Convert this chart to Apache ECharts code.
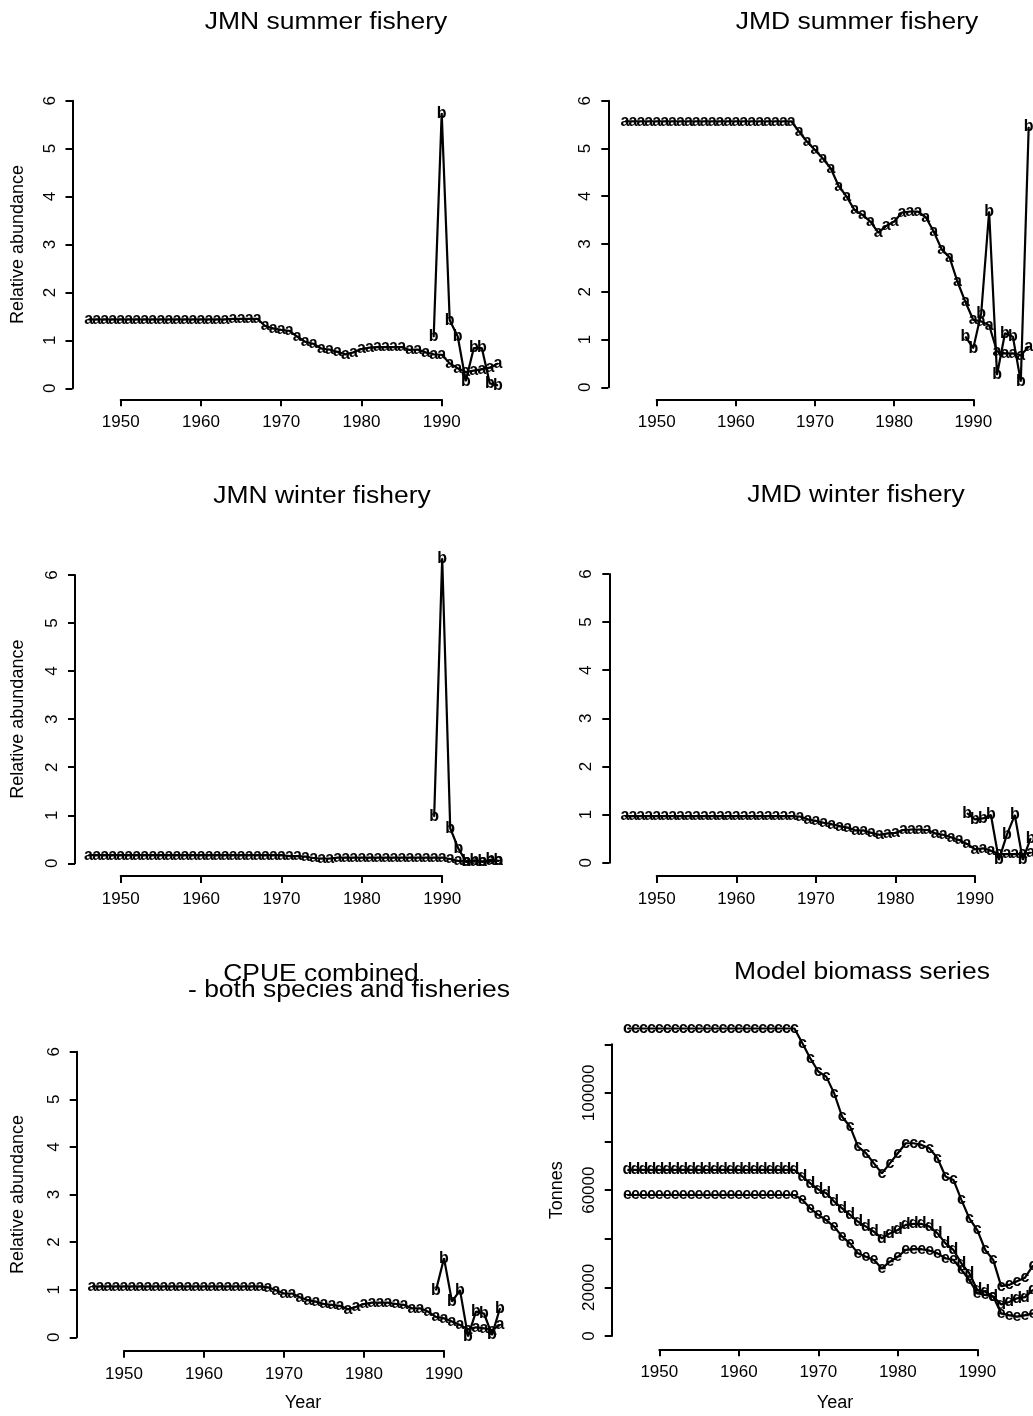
<!DOCTYPE html>
<html><head><meta charset="utf-8">
<script src="https://cdn.jsdelivr.net/npm/echarts@6.0.0/dist/echarts.min.js"></script>
<style>html,body{margin:0;padding:0;background:#fff}#c{width:1033px;height:1416px}</style>
</head><body><div id="c"></div>
<script>
// ---------------- DATA ----------------
const years = [1946,1947,1948,1949,1950,1951,1952,1953,1954,1955,1956,1957,1958,1959,1960,1961,1962,1963,1964,1965,1966,1967,
  1968,1969,1970,1971,1972,1973,1974,1975,1976,1977,1978,1979,1980,1981,1982,1983,1984,1985,1986,1987,
  1988,1989,1990,1991,1992,1993,1994,1995,1996,1997];
const obsYears = [1989,1990,1991,1992,1993,1994,1995,1996,1997];
const xTicks = [1950,1960,1970,1980,1990];

// JMN summer fishery
const jmnSummerA = [1.44,1.44,1.44,1.44,1.44,1.44,1.44,1.44,1.44,1.44,1.44,1.44,1.44,1.44,1.44,1.44,1.44,1.44,1.45,1.45,1.45,1.45,
  1.30,1.25,1.22,1.20,1.08,0.97,0.93,0.83,0.81,0.76,
  0.71,0.75,0.82,0.85,0.86,0.86,0.86,0.86,0.80,0.81,
  0.75,0.71,0.70,0.52,0.42,0.34,0.37,0.40,0.43,0.52];
const jmnSummerB = [1.07,5.74,1.42,1.08,0.15,0.84,0.84,0.10,0.06];

// JMD summer fishery
const jmdSummerA = [5.57,5.57,5.57,5.57,5.57,5.57,5.57,5.57,5.57,5.57,5.57,5.57,5.57,5.57,5.57,5.57,5.57,5.57,5.57,5.57,5.57,5.57,
  5.35,5.14,4.97,4.79,4.58,4.21,3.99,3.71,3.61,3.47,
  3.24,3.38,3.47,3.66,3.68,3.68,3.56,3.26,2.89,2.72,
  2.21,1.79,1.41,1.38,1.30,0.75,0.71,0.71,0.67,0.85];
const jmdSummerB = [1.06,0.82,1.55,3.68,0.26,1.13,1.06,0.12,5.45];

// JMN winter fishery
const jmnWinterA = [0.17,0.17,0.17,0.17,0.17,0.17,0.17,0.17,0.17,0.17,0.17,0.17,0.17,0.17,0.17,0.17,0.17,0.17,0.17,0.17,0.17,0.17,
  0.17,0.17,0.17,0.15,0.15,0.14,0.11,0.10,0.10,0.12,
  0.12,0.12,0.12,0.12,0.12,0.12,0.12,0.12,0.12,0.12,
  0.12,0.12,0.12,0.09,0.05,0.04,0.04,0.04,0.05,0.05];
const jmnWinterB = [0.97,6.35,0.73,0.31,0.03,0.06,0.03,0.07,0.05];

// JMD winter fishery
const jmdWinterA = [0.97,0.97,0.97,0.97,0.97,0.97,0.97,0.97,0.97,0.97,0.97,0.97,0.97,0.97,0.97,0.97,0.97,0.97,0.97,0.97,0.97,0.97,
  0.96,0.90,0.87,0.83,0.80,0.76,0.73,0.67,0.67,0.62,
  0.58,0.61,0.62,0.68,0.69,0.69,0.68,0.61,0.58,0.53,
  0.47,0.39,0.28,0.30,0.25,0.18,0.18,0.18,0.18,0.21];
const jmdWinterB = [1.03,0.90,0.92,0.99,0.06,0.58,0.99,0.06,0.51];

// CPUE combined
const cpueA = [1.07,1.07,1.07,1.07,1.07,1.07,1.07,1.07,1.07,1.07,1.07,1.07,1.07,1.07,1.07,1.07,1.07,1.07,1.07,1.07,1.07,1.07,
  1.05,0.99,0.92,0.92,0.84,0.78,0.75,0.70,0.68,0.66,
  0.59,0.64,0.70,0.73,0.73,0.73,0.70,0.68,0.61,0.61,
  0.54,0.43,0.40,0.33,0.26,0.17,0.21,0.19,0.15,0.26];
const cpueB = [0.99,1.66,0.75,0.99,0.02,0.54,0.50,0.05,0.61];

// Model biomass series (tonnes)
const biomassC = [126500,126500,126500,126500,126500,126500,126500,126500,126500,126500,126500,126500,126500,126500,126500,126500,126500,126500,126500,126500,126500,126500,
  120400,114200,108800,106700,99800,90200,86100,77900,75200,71000,
  66900,71000,75200,79300,79300,78600,77200,73100,65600,64200,
  56000,48400,43600,35400,31300,20500,21000,22500,24000,29000];
const biomassD = [68300,68300,68300,68300,68300,68300,68300,68300,68300,68300,68300,68300,68300,68300,68300,68300,68300,68300,68300,68300,68300,68300,
  65600,62800,60300,58700,55300,52500,49800,47000,45000,42900,
  40200,42200,43600,45700,46100,46100,45000,42200,38100,35400,
  29900,25800,18900,18200,16200,13000,14000,15500,16000,19000];
const biomassE = [58000,58000,58000,58000,58000,58000,58000,58000,58000,58000,58000,58000,58000,58000,58000,58000,58000,58000,58000,58000,58000,58000,
  56000,52500,49800,47700,45000,40900,38100,34000,32600,31300,
  27800,30600,32600,35400,35700,35700,35100,34000,32000,31300,
  27200,23000,17600,16900,16200,9300,8600,8000,8600,9300];

const relTicks = [0,1,2,3,4,5,6];
const tonneLabels = [0,20000,60000,100000];

// ---------------- LAYOUT ----------------
const FONT = '"Liberation Sans", Arial, Helvetica, sans-serif';
const W = 1033, H = 1416;
const panels = [
  {title:['JMN summer fishery'], tx:[326], ty:[23], grid:{left:120.7, top:100.7, width:321, height:287.6}, yOff:48.2, xOff:11,
   yMax:6, yInt:1, yName:'Relative abundance', yNameX:18, xName:null,
   series:[['a', years, jmnSummerA], ['b', obsYears, jmnSummerB]]},
  {title:['JMD summer fishery'], tx:[857], ty:[23], grid:{left:656.7, top:100.7, width:316.6, height:286.6}, yOff:48.4, xOff:12,
   yMax:6, yInt:1, yName:null, xName:null,
   series:[['a', years, jmdSummerA], ['b', obsYears, jmdSummerB]]},
  {title:['JMN winter fishery'], tx:[322], ty:[497], grid:{left:120.7, top:575, width:321.5, height:288.3}, yOff:45.7, xOff:12.7,
   yMax:6, yInt:1, yName:'Relative abundance', yNameX:18, xName:null,
   series:[['a', years, jmnWinterA], ['b', obsYears, jmnWinterB]]},
  {title:['JMD winter fishery'], tx:[856], ty:[496], grid:{left:656.7, top:574, width:318.3, height:288.7}, yOff:47.4, xOff:13.3,
   yMax:6, yInt:1, yName:null, xName:null,
   series:[['a', years, jmdWinterA], ['b', obsYears, jmdWinterB]]},
  {title:['CPUE combined', '- both species and fisheries'], tx:[321,349], ty:[975,991], grid:{left:124, top:1051.7, width:320, height:285.6}, yOff:47.3, xOff:13.4,
   yMax:6, yInt:1, yName:'Relative abundance', yNameX:18, xName:'Year', xNameX:303, xNameY:1403,
   series:[['a', years, cpueA], ['b', obsYears, cpueB]]},
  {title:['Model biomass series'], tx:[862], ty:[973], grid:{left:659.3, top:1044.3, width:318, height:291.7}, yOff:47.6, xOff:13.3,
   yMax:120000, yInt:20000, yName:'Tonnes', yNameX:557, xName:'Year', xNameX:835, xNameY:1403,
   series:[['c', years, biomassC], ['d', years, biomassD], ['e', years, biomassE]]}
];

const axisLineStyle = {color:'#000', width:2};
const option = {animation:false, backgroundColor:'#fff', grid:[], xAxis:[], yAxis:[], series:[], graphic:[]};

const X0 = 1950, X1 = 1990, XD0 = 1940; // visible axis span; data-axis start (years)

panels.forEach((p, i) => {
  const g = p.grid;
  const gv = 2 * i, gd = 2 * i + 1;
  // visible axes grid (axis drawn from first to last tick, R style)
  option.grid.push({left:g.left, top:g.top, width:g.width, height:g.height});
  // data grid: same scale, wider extent (kept inside the canvas) so marks beyond 1990 / above 6 are plotted
  const pxX = g.width / (X1 - X0), pxY = g.height / p.yMax;
  const XD1 = Math.min(2002, X0 + (W - 0.01 - g.left) / pxX);
  const yD0 = -0.2 * p.yMax, yD1 = 1.3 * p.yMax;
  option.grid.push({left:g.left - (X0 - XD0) * pxX, width:(XD1 - XD0) * pxX,
                    top:g.top - (yD1 - p.yMax) * pxY, height:(yD1 - yD0) * pxY});

  option.xAxis.push({type:'value', gridIndex:gv, min:X0, max:X1, interval:10, offset:p.xOff,
    axisLine:{show:true, onZero:false, lineStyle:axisLineStyle},
    axisTick:{show:true, length:7, lineStyle:axisLineStyle},
    splitLine:{show:false},
    axisLabel:{margin:15, fontSize:17, color:'#000', fontFamily:FONT, showMaxLabel:true, showMinLabel:true,
      formatter:v => xTicks.includes(v) ? String(v) : ''}});
  option.xAxis.push({type:'value', gridIndex:gd, min:XD0, max:XD1, show:false});

  const isT = p.yMax > 100;
  option.yAxis.push({type:'value', gridIndex:gv, min:0, max:p.yMax, interval:p.yInt, offset:p.yOff,
    axisLine:{show:true, onZero:false, lineStyle:axisLineStyle},
    axisTick:{show:true, length:7, lineStyle:axisLineStyle},
    splitLine:{show:false},
    axisLabel:{rotate:90, margin:14, fontSize:17, color:'#000', fontFamily:FONT, showMaxLabel:true, showMinLabel:true,
      formatter:v => isT ? (tonneLabels.includes(v) ? String(v) : '') : (relTicks.includes(v) ? String(v) : '')}});
  option.yAxis.push({type:'value', gridIndex:gd, min:yD0, max:yD1, show:false});

  p.series.forEach(([letter, xs, ys]) => {
    option.series.push({type:'line', xAxisIndex:gd, yAxisIndex:gd, clip:false, silent:true,
      data:xs.map((x, k) => [x, ys[k]]),
      symbol:'circle', symbolSize:1, showSymbol:true,
      lineStyle:{color:'#000', width:2.2}, itemStyle:{color:'#000'},
      label:{show:true, position:'inside', formatter:letter, fontSize:16, fontWeight:'bold', color:'#000', fontFamily:FONT},
      labelLayout:{hideOverlap:false},
      emphasis:{disabled:true}});
  });
  // titles
  p.title.forEach((t, k) => {
    option.graphic.push({type:'text', x:p.tx[k], y:p.ty[k], scaleX:1.15, silent:true,
      style:{text:t, fontSize:23, fontFamily:FONT, fill:'#000', align:'center', verticalAlign:'middle'}});
  });
  if (p.yName) {
    option.graphic.push({type:'text', x:p.yNameX, y:g.top + g.height / 2, rotation:Math.PI / 2, silent:true,
      style:{text:p.yName, fontSize:18, fontFamily:FONT, fill:'#000', align:'center', verticalAlign:'middle'}});
  }
  if (p.xName) {
    option.graphic.push({type:'text', x:p.xNameX, y:p.xNameY, silent:true,
      style:{text:p.xName, fontSize:18, fontFamily:FONT, fill:'#000', align:'center', verticalAlign:'middle'}});
  }
});

const chart = echarts.init(document.getElementById('c'), null, {renderer:'canvas', width:W, height:H});
chart.setOption(option);
</script>
</body></html>
